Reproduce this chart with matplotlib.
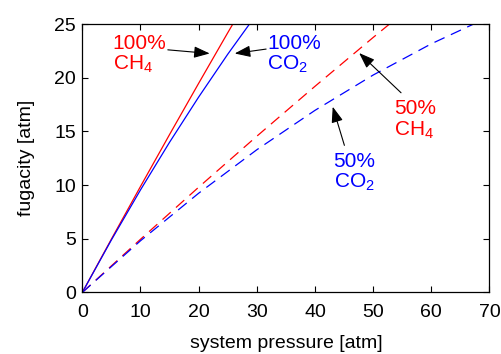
import matplotlib
matplotlib.use("Agg")
import matplotlib.pyplot as plt

plt.rcParams['font.family'] = ['Liberation Sans', 'DejaVu Sans']
plt.rcParams['mathtext.fontset'] = 'custom'
plt.rcParams['mathtext.rm'] = 'Liberation Sans'
plt.rcParams['lines.scale_dashes'] = False

# pure gas
p_pure = [0, 5, 10, 15, 20, 25, 30]
f_ch4_100 = [0, 4.97, 9.87, 14.71, 19.48, 24.19, 28.83]
f_co2_100 = [0, 4.89, 9.55, 13.99, 18.20, 22.19, 25.95]

# 50/50 mixture
p_mix = [0, 10, 20, 30, 40, 50, 60, 70]
f_ch4_50 = [0, 4.95, 9.80, 14.55, 19.20, 23.75, 28.20, 32.55]
f_co2_50 = [0, 4.81, 9.24, 13.29, 16.96, 20.25, 23.16, 25.69]

x_ticks = [0, 10, 20, 30, 40, 50, 60, 70]
y_ticks = [0, 5, 10, 15, 20, 25]

fig = plt.figure(figsize=(5.02, 3.54), dpi=100)
ax = fig.add_axes([0.164, 0.174, 0.811, 0.758])

ax.plot(p_pure, f_ch4_100, color='r', lw=0.9)
ax.plot(p_pure, f_co2_100, color='b', lw=0.9)
ax.plot(p_mix, f_ch4_50, color='r', lw=0.9, dashes=(8, 5))
ax.plot(p_mix, f_co2_50, color='b', lw=0.9, dashes=(8, 5))

ax.set_xlim(0, 70)
ax.set_ylim(0, 25)
ax.set_xticks(x_ticks)
ax.set_yticks(y_ticks)
ax.tick_params(direction='in', top=True, right=True, labelsize=14, length=4, width=0.8)
ax.tick_params(axis='x', pad=8)
ax.tick_params(axis='y', pad=4.5)
for s in ax.spines.values():
    s.set_linewidth(0.9)
ax.set_xlabel('system pressure [atm]', fontsize=14, labelpad=10.5)
ax.set_ylabel('fugacity [atm]', fontsize=14, labelpad=14)

aprops = dict(arrowstyle='-|>,head_length=0.6,head_width=0.22', color='k', lw=0.8,
              mutation_scale=16, shrinkA=0, shrinkB=0)
ax.annotate('', xy=(21.9, 22.26), xytext=(14.7, 22.6), arrowprops=aprops)
ax.annotate('', xy=(26.2, 22.26), xytext=(31.6, 22.67), arrowprops=aprops)
ax.annotate('', xy=(47.6, 22.3), xytext=(54.8, 18.6), arrowprops=aprops)
ax.annotate('', xy=(43.05, 17.3), xytext=(45.06, 13.7), arrowprops=aprops)

tkw = dict(fontsize=15, ha='left', va='top', linespacing=1.05)
ax.text(5.2, 24.1, '100%\nCH$_4$', color='r', **tkw)
ax.text(31.8, 24.1, '100%\nCO$_2$', color='b', **tkw)
ax.text(53.6, 18.0, '50%\nCH$_4$', color='r', **tkw)
ax.text(43.2, 13.1, '50%\nCO$_2$', color='b', **tkw)

fig.savefig('out.png', dpi=100)
